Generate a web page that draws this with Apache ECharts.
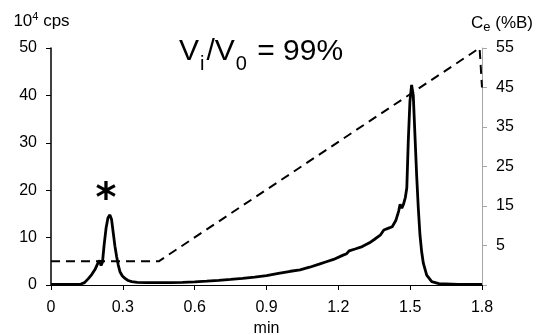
<!DOCTYPE html>
<html>
<head>
<meta charset="utf-8">
<title>Chromatogram</title>
<script src="https://cdn.jsdelivr.net/npm/echarts@6/dist/echarts.min.js"></script>
<style>
  html, body { margin: 0; padding: 0; background: #fff; }
  #chart { width: 539px; height: 335px; }
</style>
</head>
<body>
<div id="chart"></div>
<script>
// Detector signal (10^4 cps) against retention time (min)
const timeMin = [0, 0.05, 0.10, 0.125, 0.14, 0.155, 0.17, 0.185, 0.195, 0.203, 0.209, 0.215, 0.222, 0.230, 0.238, 0.246, 0.253, 0.260, 0.267, 0.274, 0.281, 0.288, 0.298, 0.309, 0.322, 0.337, 0.36, 0.40, 0.45, 0.50, 0.55, 0.60, 0.65, 0.70, 0.75, 0.80, 0.85, 0.90, 0.95, 1.00, 1.04, 1.08, 1.12, 1.15, 1.18, 1.22, 1.235, 1.245, 1.27, 1.30, 1.33, 1.35, 1.375, 1.39, 1.41, 1.425, 1.44, 1.452, 1.458, 1.465, 1.472, 1.48, 1.486, 1.492, 1.499, 1.506, 1.513, 1.52, 1.527, 1.534, 1.541, 1.548, 1.555, 1.569, 1.59, 1.62, 1.70, 1.80];
const signalCps = [0.15, 0.15, 0.15, 0.2, 0.5, 1.3, 2.2, 3.4, 4.5, 5.2, 4.1, 4.8, 8.5, 12.0, 14.2, 14.8, 13.8, 11.0, 8.2, 6.0, 4.2, 2.8, 1.9, 1.4, 0.95, 0.7, 0.55, 0.5, 0.5, 0.52, 0.56, 0.65, 0.8, 0.98, 1.18, 1.4, 1.68, 2.0, 2.45, 2.9, 3.2, 3.75, 4.4, 4.9, 5.4, 6.3, 6.6, 7.2, 7.6, 8.1, 8.9, 9.6, 10.5, 11.6, 12.0, 12.3, 13.6, 15.6, 17.0, 16.2, 17.0, 18.5, 20.5, 30.2, 38.7, 42.2, 40.0, 31.6, 23.2, 16.2, 10.5, 7.0, 4.6, 2.1, 0.7, 0.3, 0.15, 0.15];

// Eluent gradient programme, C_e in %B
const gradientTime = [0, 0.45, 1.79, 1.80];
const gradientPctB = [1, 1, 55, 45];

// Axis ticks
const xTicks = { min: 0, max: 1.8, step: 0.3 };
const cpsTicks = { min: 0, max: 50, step: 10 };
const pctBTickValues = [-5, 5, 15, 25, 35, 45, 55];
const pctBLabelValues = [5, 15, 25, 35, 45, 55];

const FONT = 'Liberation Sans, Arial, Helvetica, sans-serif';

// The early (marked) peak is the largest point before 0.4 min
let markIdx = 0;
timeMin.forEach((t, i) => { if (t < 0.4 && signalCps[i] > signalCps[markIdx]) markIdx = i; });

const signalData = timeMin.map((t, i) => [t, signalCps[i]]);
const gradientData = gradientTime.map((t, i) => [t, gradientPctB[i]]);

const chart = echarts.init(document.getElementById('chart'), null, { renderer: 'canvas' });
chart.setOption({
  backgroundColor: '#fff',
  animation: false,
  title: {
    text: '{v|V}{s|i}{v|/V}{s|0}{v| = 99%}',
    left: 174, top: 31,
    textStyle: {
      fontWeight: 'normal',
      rich: {
        v: { fontSize: 30, fontWeight: 'normal', fontFamily: FONT, color: '#000', lineHeight: 32 },
        s: { fontSize: 20, fontWeight: 'normal', fontFamily: FONT, color: '#000', lineHeight: 20, padding: [24, 2, 0, 1] }
      }
    }
  },
  grid: { left: 51, right: 57, top: 48, bottom: 50, containLabel: false, outerBoundsMode: 'none' },
  xAxis: {
    type: 'value',
    min: xTicks.min, max: xTicks.max, interval: xTicks.step,
    name: 'min', nameLocation: 'middle', nameGap: 36,
    nameTextStyle: { fontSize: 16, fontFamily: FONT, color: '#000' },
    axisLine: { show: true, lineStyle: { color: '#000', width: 1 } },
    axisTick: { show: true, length: 5, lineStyle: { color: '#000' } },
    axisLabel: {
      fontSize: 16, fontFamily: FONT, color: '#000', margin: 15,
      formatter: v => String(Math.round(v * 10) / 10)
    },
    splitLine: { show: false }
  },
  yAxis: [
    {
      type: 'value', position: 'left',
      min: cpsTicks.min, max: cpsTicks.max, interval: cpsTicks.step,
      name: '{a|10}{p|4}{a| cps}', nameLocation: 'end', nameGap: 27,
      nameTextStyle: {
        align: 'center', verticalAlign: 'middle', padding: [0, 19, 0, 0],
        rich: {
          a: { fontSize: 17, fontFamily: FONT, color: '#000' },
          p: { fontSize: 11, fontFamily: FONT, color: '#000', padding: [0, 0, 9, 0] }
        }
      },
      axisLine: { show: true, lineStyle: { color: '#000', width: 1.5 } },
      axisTick: { show: true, length: 5, lineStyle: { color: '#000' } },
      axisLabel: { fontSize: 16, fontFamily: FONT, color: '#000', margin: 14 },
      splitLine: { show: false }
    },
    {
      type: 'value', position: 'right',
      min: -5, max: 55,
      name: '{a|C}{e|e}{a| (%B)}', nameLocation: 'end', nameGap: 25,
      nameTextStyle: {
        align: 'center', verticalAlign: 'middle', padding: [0, 0, 0, 40],
        rich: {
          a: { fontSize: 17, fontFamily: FONT, color: '#000' },
          e: { fontSize: 13, fontFamily: FONT, color: '#000', padding: [9, 0, 0, 0] }
        }
      },
      axisLine: { show: true, lineStyle: { color: '#a6a6a6', width: 1 } },
      axisTick: { show: true, length: 5, customValues: pctBTickValues, lineStyle: { color: '#a6a6a6' } },
      axisLabel: { fontSize: 16, fontFamily: FONT, color: '#000', margin: 14, customValues: pctBLabelValues },
      splitLine: { show: false }
    }
  ],
  series: [
    {
      name: 'Signal', type: 'line', xAxisIndex: 0, yAxisIndex: 0,
      data: signalData, symbol: 'none', showSymbol: false, smooth: false,
      lineStyle: { color: '#000', width: 2.8 }, z: 3
    },
    {
      name: 'Gradient', type: 'line', xAxisIndex: 0, yAxisIndex: 1,
      data: gradientData, symbol: 'none', showSymbol: false,
      lineStyle: { color: '#000', width: 2, type: [9, 6] }, z: 2
    },
    {
      // asterisk marking the early peak
      name: 'Marked peak', type: 'scatter', xAxisIndex: 0, yAxisIndex: 0,
      data: [[timeMin[markIdx], signalCps[markIdx]]],
      symbolSize: 1, itemStyle: { color: 'rgba(0,0,0,0)' }, silent: true,
      label: {
        show: true, formatter: '*', position: 'top', distance: 0, offset: [-4, 6],
        fontSize: 40, fontWeight: 'bold', fontFamily: 'DejaVu Sans', color: '#000', opacity: 1
      },
      z: 4
    }
  ]
});
</script>
</body>
</html>
